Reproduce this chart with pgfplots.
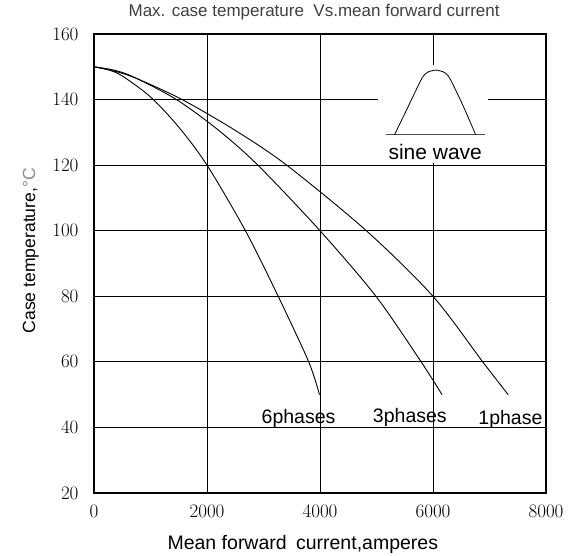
\documentclass[border=0pt]{standalone}
\usepackage[no-math]{fontspec}
\setmainfont{Liberation Sans}
\newfontfamily\lmr{Latin Modern Roman}
\usepackage{pgfplots}
\pgfplotsset{compat=1.18}
\begin{document}
\begin{tikzpicture}
\begin{axis}[
  name=ax,
  scale only axis,
  width=452pt, height=459pt,
  xmin=0, xmax=8000, ymin=20, ymax=160,
  xtick={0,2000,...,8000}, ytick={20,40,...,160},
  grid=major,
  major grid style={black, line width=0.8pt},
  axis line style={line width=1.6pt},
  major tick length=0pt,
  scaled ticks=false,
  /pgf/number format/1000 sep={},
  /pgf/number format/assume math mode=true,
  ticklabel style={font=\lmr\fontsize{19}{19}\selectfont},
  xticklabel style={yshift=-8pt},
  yticklabel style={xshift=-12pt},
  title={Max. case temperature\ \ Vs.mean forward current},
  title style={at={(axis description cs:0.487,1.0244)}, anchor=base,
    font=\fontsize{17}{17}\selectfont, text=black!75},
  xlabel={Mean forward\hspace{0.2em} current,amperes},
  xlabel style={at={(axis description cs:0.462,-0.123)}, anchor=base,
    font=\fontsize{19.5}{19.5}\selectfont},
  ylabel={Case temperature,{\color{black!45}°C}},
  ylabel style={at={(axis description cs:-0.1305,0.528)}, anchor=base,
    font=\fontsize{17.6}{17.6}\selectfont},
  clip=false,
]
% inset with the sine wave icon
\fill[white] (axis cs:5030,120.6) rectangle (axis cs:6970,150.6);
\addplot[black!70, line width=0.8pt] coordinates {(5163,129.3) (6915,129.3)};
\addplot[black, line width=0.8pt, smooth, tension=0.4] coordinates {
  (5320,129.3) (5570,138.2) (5800,146.4) (5900,148.3) (6050,149.0)
  (6200,148.3) (6300,146.4) (6530,138.2) (6755,129.3)};
\node[anchor=base, font=\fontsize{21}{21}\selectfont] at (axis cs:6040,121.6) {sine wave};

% 6 phases
\addplot[black, line width=0.9pt, smooth] coordinates {
  (0,150) (250,149.1) (500,147.2) (1000,140.8) (1500,131.6) (2000,120)
  (2680,100) (3260,80) (3800,60) (3990,50)};
% 3 phases
\addplot[black, line width=0.9pt, smooth] coordinates {
  (0,150) (350,149.0) (700,146.9) (1460,140) (2200,130.7) (2900,120)
  (4000,100) (4990,80) (5790,60) (6160,50)};
% 1 phase
\addplot[black, line width=0.9pt, smooth] coordinates {
  (0,150) (400,148.5) (800,146.1) (1560,140) (2500,130.6) (3410,120)
  (4820,100) (6000,80) (6880,60) (7330,50)};

\node[anchor=base, font=\fontsize{19.5}{19.5}\selectfont] at (axis cs:3620,41.2) {6phases};
\node[anchor=base, font=\fontsize{19.5}{19.5}\selectfont] at (axis cs:5590,41.4) {3phases};
\node[anchor=base, font=\fontsize{19.5}{19.5}\selectfont] at (axis cs:7370,40.9) {1phase};
\end{axis}
\pgfresetboundingbox
\path ([shift={(-94pt,-62pt)}]ax.south west) rectangle ([shift={(29pt,34pt)}]ax.north east);
\end{tikzpicture}
\end{document}
